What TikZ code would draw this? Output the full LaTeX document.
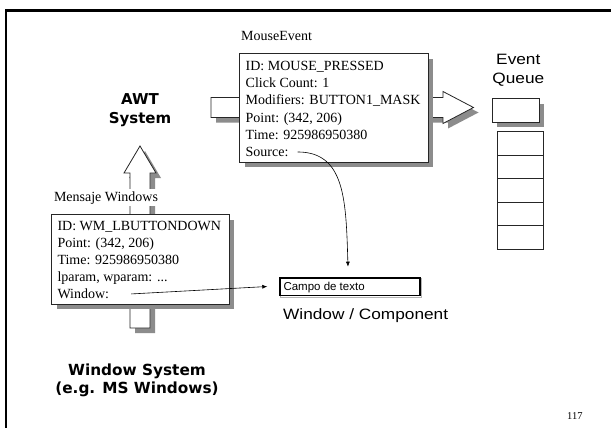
\documentclass[tikz,border=0pt]{standalone}
\usepackage{fontspec}
\setmainfont{Liberation Serif}
\newfontfamily\sansf{Liberation Sans}[FakeStretch=1.15]
\newfontfamily\smallsansf{Liberation Sans}
\newfontfamily\boldsans{DejaVu Sans}
\usetikzlibrary{arrows.meta,shadows}
\definecolor{shadowgray}{HTML}{8C8C8C}
\definecolor{edgegray}{HTML}{B4B4B4}
\tikzset{
  serif/.style={font=\fontsize{14}{17}\selectfont, inner sep=0pt, anchor=base west},
  myshadow/.style={drop shadow={shadow xshift=5pt, shadow yshift=-5pt, opacity=1, fill=shadowgray}},
  whitebox/.style={fill=white, draw=black!85, line width=0.8pt},
  recbox/.style={whitebox, rectangle, inner sep=0pt, anchor=north west},
  ptr/.style={-{Latex[length=5pt,width=4pt]}, line width=0.6pt},
  bigsans/.style={font=\boldsans\bfseries\fontsize{15}{19}\selectfont, align=center, inner sep=0pt, anchor=north},
  lightsans/.style={font=\sansf\fontsize{15}{18.7}\selectfont, inner sep=0pt},
}
\begin{document}
\begin{tikzpicture}[x=1pt,y=-1pt]
\useasboundingbox (0,0) rectangle (611,428);
\fill[white] (0,0) rectangle (611,428);
% frame
\draw[line width=2.8pt, line join=miter] (6,428) -- (6,10.5) -- (611,10.5);

% horizontal block arrow (AWT -> Event Queue)
\fill[shadowgray, shift={(5,5)}] (211,97.5) -- (443,97.5) -- (443,91.5) -- (473.5,107.5) -- (443,123.5) -- (443,117.5) -- (211,117.5) -- cycle;
\draw[whitebox] (211,97.5) -- (443,97.5) -- (443,91.5) -- (473.5,107.5) -- (443,123.5) -- (443,117.5) -- (211,117.5) -- cycle;

% vertical block arrow (Window System -> AWT)
\fill[shadowgray, shift={(5,5)}] (130,328) -- (130,173) -- (124,173) -- (140,146) -- (156,173) -- (150,173) -- (150,328) -- cycle;
\draw[whitebox] (130,328) -- (130,173) -- (124,173) -- (140,146) -- (156,173) -- (150,173) -- (150,328) -- cycle;

% MouseEvent box
\node[recbox, myshadow, minimum width=188.2pt, minimum height=108.4pt] (me) at (239.3,53.3) {};
\node[serif] (melabel) at (241,40.5) {MouseEvent};
\node[serif] (me1) at (245.5,70.5) {ID: MOUSE\_PRESSED};
\node[serif] (me2) at (245.5,87.7) {Click Count: 1};
\node[serif] (me3) at (245.5,104.9) {Modifiers: BUTTON1\_MASK};
\node[serif] (me4) at (245.5,122.1) {Point: (342, 206)};
\node[serif] (me5) at (245.5,139.3) {Time: 925986950380};
\node[serif] (me6) at (245.5,156.5) {Source:};

% Windows message box
\node[recbox, myshadow, minimum width=177.4pt, minimum height=89.7pt] (wm) at (51.4,214.3) {};
\node[serif, fill=white, inner ysep=2pt] (wmlabel) at (53.8,201) {Mensaje Windows};
\node[serif] (wm1) at (57.3,230.3) {ID: WM\_LBUTTONDOWN};
\node[serif] (wm2) at (57.3,247.4) {Point: (342, 206)};
\node[serif] (wm3) at (57.3,264.5) {Time: 925986950380};
\node[serif] (wm4) at (57.3,281.6) {lparam, wparam: ...};
\node[serif] (wm5) at (57.3,298.7) {Window:};

% big labels
\node[bigsans] (awt) at (140,93.8) {AWT\\System};
\node[bigsans, font=\boldsans\bfseries\fontsize{15.3}{18.4}\selectfont] (wsys) at (137,363.3) {Window System\\(e.g. MS Windows)};
\node[lightsans, align=center, anchor=north] (evq) at (518.3,54) {Event\\Queue};

% event queue
\node[recbox, myshadow, minimum width=47pt, minimum height=23.3pt] (qtop) at (491.5,98.5) {};
\node[recbox, minimum width=46.8pt, minimum height=23.54pt] (q1) at (496.5,131.3) {};
\node[recbox, minimum width=46.8pt, minimum height=23.54pt] (q2) at (496.5,154.84) {};
\node[recbox, minimum width=46.8pt, minimum height=23.54pt] (q3) at (496.5,178.38) {};
\node[recbox, minimum width=46.8pt, minimum height=23.54pt] (q4) at (496.5,201.92) {};
\node[recbox, minimum width=46.8pt, minimum height=23.54pt] (q5) at (496.5,225.46) {};

% component
\node[rectangle, draw=edgegray, line width=0.8pt, minimum width=141pt, minimum height=19.5pt, inner sep=0pt] (campoedge) at (351.3,287.8) {};
\node[rectangle, draw=black, fill=white, line width=1.8pt, minimum width=139.6pt, minimum height=17.8pt, inner sep=0pt] (campo) at (350,286.5) {};
\node[inner sep=0pt, anchor=base west, font=\smallsansf\fontsize{11.5}{13}\selectfont] (campotxt) at (283.3,290.6) {Campo de texto};
\node[lightsans, anchor=base west] (wc) at (283,319.4) {Window / Component};

% pointers
\draw[ptr] ([xshift=22pt]wm5.east) -- ([xshift=-12pt]campo.west);
\draw[ptr] ([xshift=9pt]me6.east) .. controls (345,152) and (346,200) .. ([xshift=-2pt,yshift=10pt]campo.north);

% page number
\node[inner sep=0pt, anchor=base west, font=\fontsize{10.5}{12}\selectfont] (pg) at (567,419) {117};
\end{tikzpicture}
\end{document}
